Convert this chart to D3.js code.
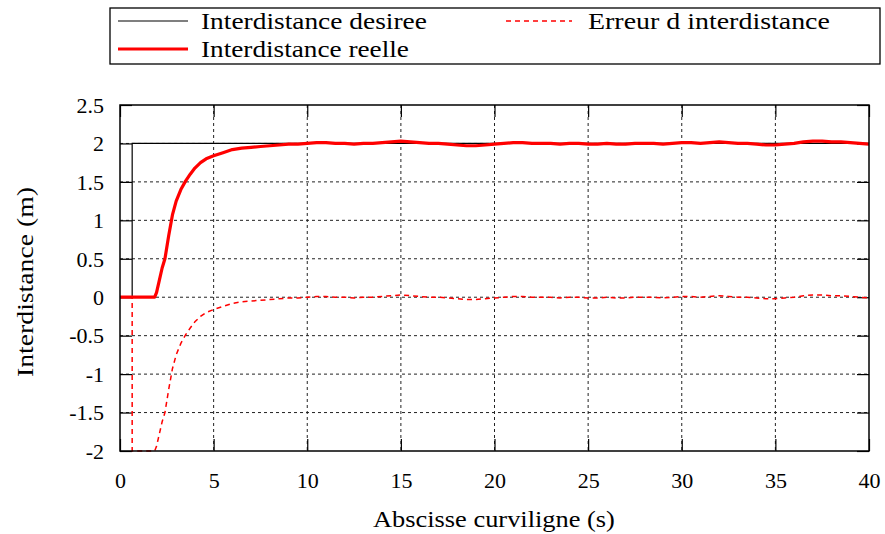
<!DOCTYPE html>
<html><head><meta charset="utf-8">
<script src="https://cdn.jsdelivr.net/npm/d3@7"></script>
<style>
body{margin:0;background:#fff}
</style>
</head><body>
<svg id="c" width="885" height="534"></svg>
<script>
// ---- data ----
const xTicks = [0,5,10,15,20,25,30,35,40];
const yTicks = [-2,-1.5,-1,-0.5,0,0.5,1,1.5,2,2.5];
const yTickLabels = ["-2","-1.5","-1","-0.5","0","0.5","1","1.5","2","2.5"];
const seriesNames = ["Interdistance desiree","Interdistance reelle","Erreur d interdistance"];

const desiredT = [0,0.65,0.65,40];
const desiredV = [0,0,2,2];

const realT = [0,1.85,1.95,2.1,2.25,2.4,2.6,2.8,3.0,3.25,3.5,3.75,4.0,4.3,4.6,5.0,5.5,6.0,6.5,7.0,7.5,8.0,8.5,9.0,9.5,
  10,10.5,11,11.5,12,12.5,13,13.5,14,14.5,15,15.5,16,16.5,17,17.5,18,18.5,19,19.5,20,20.5,21,21.5,22,22.5,23,23.5,24,24.5,
  25,25.5,26,26.5,27,27.5,28,28.5,29,29.5,30,30.5,31,31.5,32,32.5,33,33.5,34,34.5,35,35.5,36,36.5,37,37.5,38,38.5,39,39.5,40];
const realV = [0,0,0.06,0.22,0.38,0.5,0.8,1.07,1.25,1.4,1.51,1.6,1.68,1.75,1.8,1.84,1.88,1.92,1.94,1.95,1.96,1.97,1.98,1.99,1.99,
  2.00,2.01,2.01,2.00,2.00,1.99,2.00,2.00,2.01,2.02,2.03,2.02,2.01,2.00,2.00,1.99,1.98,1.97,1.97,1.98,1.99,2.00,2.01,2.01,2.00,2.00,2.00,1.99,2.00,2.00,
  1.99,1.99,2.00,1.99,1.99,2.00,2.00,2.00,1.99,2.00,2.01,2.01,2.00,2.01,2.02,2.01,2.00,2.00,1.99,1.98,1.98,1.99,2.00,2.02,2.03,2.03,2.02,2.02,2.01,2.00,1.99];

const errorT = [0,0.65,0.65,1.85,1.95,2.1,2.25,2.4,2.6,2.8,3.0,3.25,3.5,3.75,4.0,4.3,4.6,5.0,5.5,6.0,6.5,7.0,7.5,8.0,8.5,9.0,9.5,
  10,10.5,11,11.5,12,12.5,13,13.5,14,14.5,15,15.5,16,16.5,17,17.5,18,18.5,19,19.5,20,20.5,21,21.5,22,22.5,23,23.5,24,24.5,
  25,25.5,26,26.5,27,27.5,28,28.5,29,29.5,30,30.5,31,31.5,32,32.5,33,33.5,34,34.5,35,35.5,36,36.5,37,37.5,38,38.5,39,39.5,40];
const errorV = [0,0,-2,-2,-1.94,-1.78,-1.62,-1.5,-1.2,-0.93,-0.75,-0.6,-0.49,-0.4,-0.32,-0.25,-0.2,-0.16,-0.12,-0.08,-0.06,-0.05,-0.04,-0.03,-0.02,-0.01,-0.01,
  0.00,0.01,0.01,0.00,0.00,-0.01,0.00,0.00,0.01,0.02,0.03,0.02,0.01,0.00,0.00,-0.01,-0.02,-0.03,-0.03,-0.02,-0.01,0.00,0.01,0.01,0.00,0.00,0.00,-0.01,0.00,0.00,
  -0.01,-0.01,0.00,-0.01,-0.01,0.00,0.00,0.00,-0.01,0.00,0.01,0.01,0.00,0.01,0.02,0.01,0.00,0.00,-0.01,-0.02,-0.02,-0.01,0.00,0.02,0.03,0.03,0.02,0.02,0.01,0.00,-0.01];

// ---- layout ----
const svg = d3.select("#c");
const L = 120, R = 869, T = 105, B = 451;
const x = d3.scaleLinear().domain([0,40]).range([L,R]);
const y = d3.scaleLinear().domain([-2,2.5]).range([B,T]);
const serif = sel => sel.style("font-family","'Liberation Serif'");

// grid
const g = svg.append("g");
g.selectAll(".gx").data(xTicks.slice(1,-1)).join("line")
  .attr("x1",d=>x(d)).attr("x2",d=>x(d)).attr("y1",T).attr("y2",B)
  .attr("stroke","#222").attr("stroke-width",1).attr("stroke-dasharray","3,3");
g.selectAll(".gy").data(yTicks.slice(1,-1)).join("line")
  .attr("y1",d=>y(d)).attr("y2",d=>y(d)).attr("x1",L).attr("x2",R)
  .attr("stroke","#222").attr("stroke-width",1).attr("stroke-dasharray","3,3");

// axes with inward ticks on all sides
const tl = 12;
function clean(a){ a.attr("font-family",null).attr("font-size",null); a.select(".domain").remove(); }
svg.append("g").attr("transform",`translate(0,${B})`)
  .call(d3.axisBottom(x).tickValues(xTicks).tickSize(-tl).tickSizeOuter(0).tickFormat(d3.format("d")))
  .call(a=>{clean(a);a.selectAll("text").attr("dy",0).attr("y",37).attr("fill","#000").call(serif).style("font-size","22px");});
svg.append("g").attr("transform",`translate(0,${T})`)
  .call(d3.axisTop(x).tickValues(xTicks).tickSize(-tl).tickSizeOuter(0).tickFormat(""))
  .call(clean);
svg.append("g").attr("transform",`translate(${L},0)`)
  .call(d3.axisLeft(y).tickValues(yTicks).tickSize(-tl).tickSizeOuter(0).tickFormat((d,i)=>yTickLabels[i]))
  .call(a=>{clean(a);a.selectAll("text").attr("x",-16).attr("dy","0.33em").attr("fill","#000").call(serif).style("font-size","22px");});
svg.append("g").attr("transform",`translate(${R},0)`)
  .call(d3.axisRight(y).tickValues(yTicks).tickSize(-tl).tickSizeOuter(0).tickFormat(""))
  .call(clean);
svg.selectAll(".tick line").attr("stroke","#000").attr("stroke-width",1.2);

// lines
const line = d3.line().x(d=>x(d[0])).y(d=>y(d[1]));
svg.append("path").datum(errorT.map((t,i)=>[t,errorV[i]])).attr("d",line)
  .attr("fill","none").attr("stroke","#ff0000").attr("stroke-width",1.5).attr("stroke-dasharray","5,4");
svg.append("path").datum(desiredT.map((t,i)=>[t,desiredV[i]])).attr("d",line)
  .attr("fill","none").attr("stroke","#000").attr("stroke-width",1.2);
svg.append("path").datum(realT.map((t,i)=>[t,realV[i]])).attr("d",line)
  .attr("fill","none").attr("stroke","#ff0000").attr("stroke-width",3.2).attr("stroke-linejoin","round");

// frame
svg.append("rect").attr("x",L).attr("y",T).attr("width",R-L).attr("height",B-T)
  .attr("fill","none").attr("stroke","#000").attr("stroke-width",1.5);

// text fitted horizontally by scaling (no textLength)
function fitText(parent, str, px, py, width, rotate){
  const gg = parent.append("g");
  const t = gg.append("text").text(str).call(serif).style("font-size","23px");
  const w = t.node().getComputedTextLength() || width;
  const s = width / w;
  gg.attr("transform",`translate(${px},${py})${rotate?" rotate(-90)":""} scale(${s},1)`);
  return gg;
}
fitText(svg,"Abscisse curviligne (s)",373,527,242,false);
fitText(svg,"Interdistance (m)",33,377,190,true);

// legend
const lg = svg.append("g");
lg.append("rect").attr("x",110).attr("y",8).attr("width",770).attr("height",56)
  .attr("fill","#fff").attr("stroke","#000").attr("stroke-width",1.3);
const legendItems = [
  {name:seriesNames[0], x1:118, x2:188, tx:201, ty:21, tw:226, stroke:"#000", w:1.2, dash:null},
  {name:seriesNames[2], x1:506, x2:572, tx:588, ty:21, tw:242, stroke:"#ff0000", w:1.5, dash:"5,4"},
  {name:seriesNames[1], x1:118, x2:188, tx:201, ty:49, tw:208, stroke:"#ff0000", w:3.2, dash:null}
];
legendItems.forEach(it=>{
  lg.append("line").attr("x1",it.x1).attr("x2",it.x2).attr("y1",it.ty).attr("y2",it.ty)
    .attr("stroke",it.stroke).attr("stroke-width",it.w).attr("stroke-dasharray",it.dash);
  fitText(lg, it.name, it.tx, it.ty+8, it.tw, false);
});
</script>
</body></html>
